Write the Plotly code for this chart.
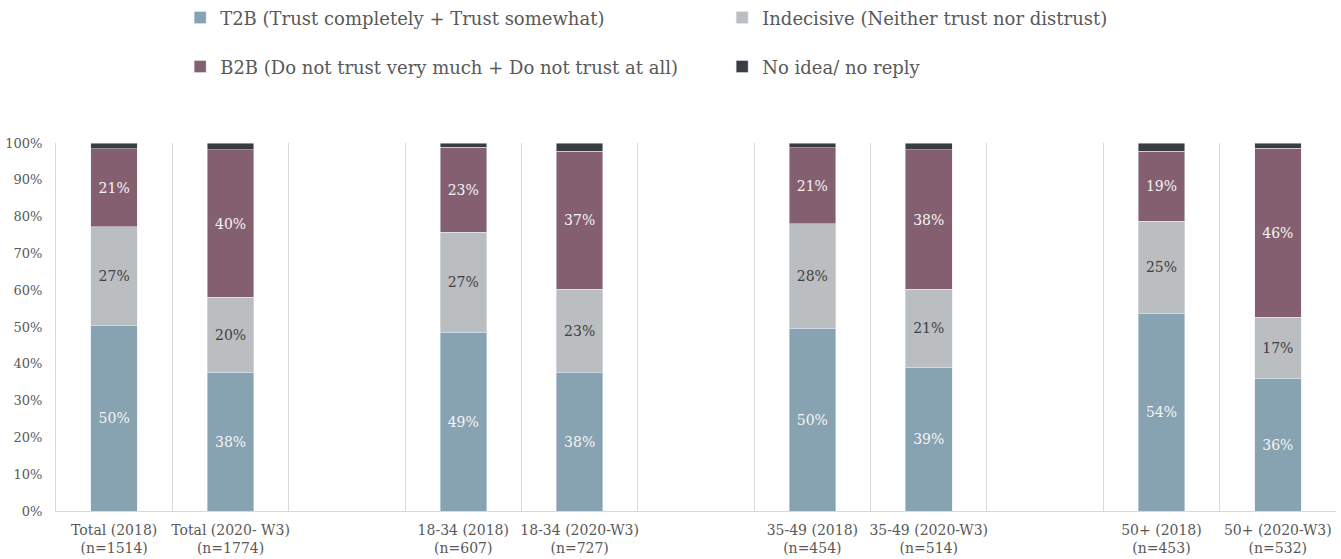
import plotly.graph_objects as go

# categories (blank slots are the gaps between age groups)
categories = ['Total (2018)<br>(n=1514)', 'Total (2020- W3)<br>(n=1774)', ' ',
              '18-34 (2018)<br>(n=607)', '18-34 (2020-W3)<br>(n=727)', '  ',
              '35-49 (2018)<br>(n=454)', '35-49 (2020-W3)<br>(n=514)', '   ',
              '50+ (2018)<br>(n=453)', '50+ (2020-W3)<br>(n=532)']

t2b = [50.4, 37.7, None, 48.6, 37.6, None, 49.7, 39.1, None, 53.8, 36.1]
indecisive = [26.8, 20.4, None, 27.2, 22.7, None, 28.4, 21.2, None, 25.0, 16.6]
b2b = [21.2, 40.0, None, 23.1, 37.4, None, 20.6, 37.8, None, 19.0, 45.9]
no_idea = [1.6, 1.9, None, 1.1, 2.3, None, 1.3, 1.9, None, 2.2, 1.4]

series_names = ['T2B (Trust completely + Trust somewhat)',
                'Indecisive (Neither trust nor distrust)',
                'B2B (Do not trust very much + Do not trust at all)',
                'No idea/ no reply']

y_ticks = list(range(0, 101, 10))
y_tick_labels = [f'{v}%' for v in y_ticks]

FONT = 'DejaVu Serif'
GREY = '#595959'
colors = ['#87A2B0', '#BBBEC1', '#845F70', '#393C40']
text_colors = ['#F5F5F5', '#404040', '#F5F5F5', None]
legends = ['legend', 'legend', 'legend2', 'legend2']

fig = go.Figure()
for name, vals, col, tcol, lg in zip(series_names, [t2b, indecisive, b2b, no_idea],
                                     colors, text_colors, legends):
    fig.add_trace(go.Bar(
        x=categories, y=vals, name=name, marker_color=col,
        legend=lg,
        texttemplate='%{y:.0f}%' if tcol else None,
        textposition='inside' if tcol else 'none',
        insidetextanchor='middle', textangle=0,
        textfont=dict(family=FONT, size=14, color=tcol or 'white'),
        hoverinfo='skip',
    ))

legend_style = dict(orientation='h', x=0.097, xanchor='left', yanchor='middle',
                    entrywidth=497, traceorder='normal', itemwidth=30,
                    font=dict(size=18, family=FONT, color=GREY))

fig.update_layout(
    width=1341, height=559,
    barmode='stack', bargap=0.6,
    plot_bgcolor='white', paper_bgcolor='white',
    font=dict(family=FONT, color=GREY),
    margin=dict(l=56, r=5, t=143, b=48, autoexpand=False),
    uniformtext=dict(minsize=14, mode='show'),
    legend=dict(legend_style, y=1.34),
    legend2=dict(legend_style, y=1.207),
    xaxis=dict(type='category', tickson='boundaries', showgrid=True,
               gridcolor='#D9D9D9', gridwidth=1, showline=True, linecolor='#D9D9D9',
               ticks='', tickangle=0, ticklabelstandoff=6,
               tickfont=dict(size=14, family=FONT, color=GREY),
               range=[-0.5, 10.5]),
    yaxis=dict(range=[0, 100], tickvals=y_ticks, ticktext=y_tick_labels,
               showgrid=False, zeroline=False, showline=True, linecolor='#D9D9D9',
               ticks='outside', ticklen=10, tickcolor='white',
               tickfont=dict(size=13, family=FONT, color=GREY)),
)

# drop the page's default body margin so the figure sits at the window corner
fig.write_html('out.html', config={'displayModeBar': False},
               post_script="document.body.style.margin='0';")
